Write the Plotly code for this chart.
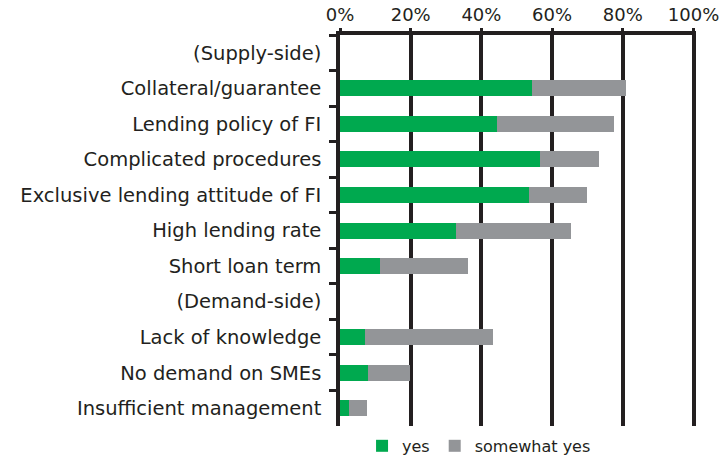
import plotly.graph_objects as go

categories = [
    "(Supply-side)",
    "Collateral/guarantee",
    "Lending policy of FI",
    "Complicated procedures",
    "Exclusive lending attitude of FI",
    "High lending rate",
    "Short loan term",
    "(Demand-side)",
    "Lack of knowledge",
    "No demand on SMEs",
    "Insufficient management",
]
yes_vals = [None, 54.2, 44.3, 56.6, 53.5, 32.8, 11.2, None, 7.2, 7.8, 2.6]
somewhat_vals = [None, 26.6, 33.1, 16.7, 16.4, 32.4, 25.0, None, 36.0, 12.1, 5.1]
x_ticks = [0, 20, 40, 60, 80, 100]
x_tick_labels = ["0%", "20%", "40%", "60%", "80%", "100%"]

GREEN = "#00A94F"
GRAY = "#939598"
INK = "#231F20"
FONT = "DejaVu Sans"

fig = go.Figure()
fig.add_trace(go.Bar(y=categories, x=yes_vals, orientation="h", name="yes",
                     marker=dict(color=GREEN, line=dict(width=0)), width=0.45))
fig.add_trace(go.Bar(y=categories, x=somewhat_vals, orientation="h", name="somewhat yes",
                     marker=dict(color=GRAY, line=dict(width=0)), width=0.45))

fig.update_layout(
    barmode="stack",
    width=727, height=455,
    margin=dict(l=339.5, r=30.7, t=34.5, b=29, pad=0, autoexpand=False),
    paper_bgcolor="white", plot_bgcolor="white",
    font=dict(family=FONT, color=INK),
    showlegend=True,
    legend=dict(orientation="h", xref="container", yref="container",
                x=0.498, xanchor="left", y=0.02, yanchor="middle",
                font=dict(size=16, color=INK), itemwidth=30,
                traceorder="normal", bgcolor="rgba(0,0,0,0)"),
    xaxis=dict(side="top", range=[0, 100.7], tickvals=x_ticks, ticktext=x_tick_labels,
               showgrid=True, gridcolor=INK, gridwidth=3.5, zeroline=False,
               showline=True, linecolor=INK, linewidth=3.5,
               ticks="outside", ticklen=3, tickwidth=3, tickcolor=INK,
               tickfont=dict(size=18, color=INK), ticklabelstandoff=0,
               automargin=False, fixedrange=True),
    yaxis=dict(type="category", categoryorder="array", categoryarray=categories,
               autorange="reversed", tickson="boundaries",
               showline=True, linecolor=INK, linewidth=3.5,
               ticks="outside", ticklen=7, tickwidth=2.5, tickcolor=INK,
               tickfont=dict(size=19.5, color=INK), ticklabelstandoff=11,
               showgrid=False, zeroline=False, automargin=False, fixedrange=True),
)

fig.write_html("out.html", config={"displayModeBar": False},
               post_script="document.body.style.margin='0';document.body.style.padding='0';")
